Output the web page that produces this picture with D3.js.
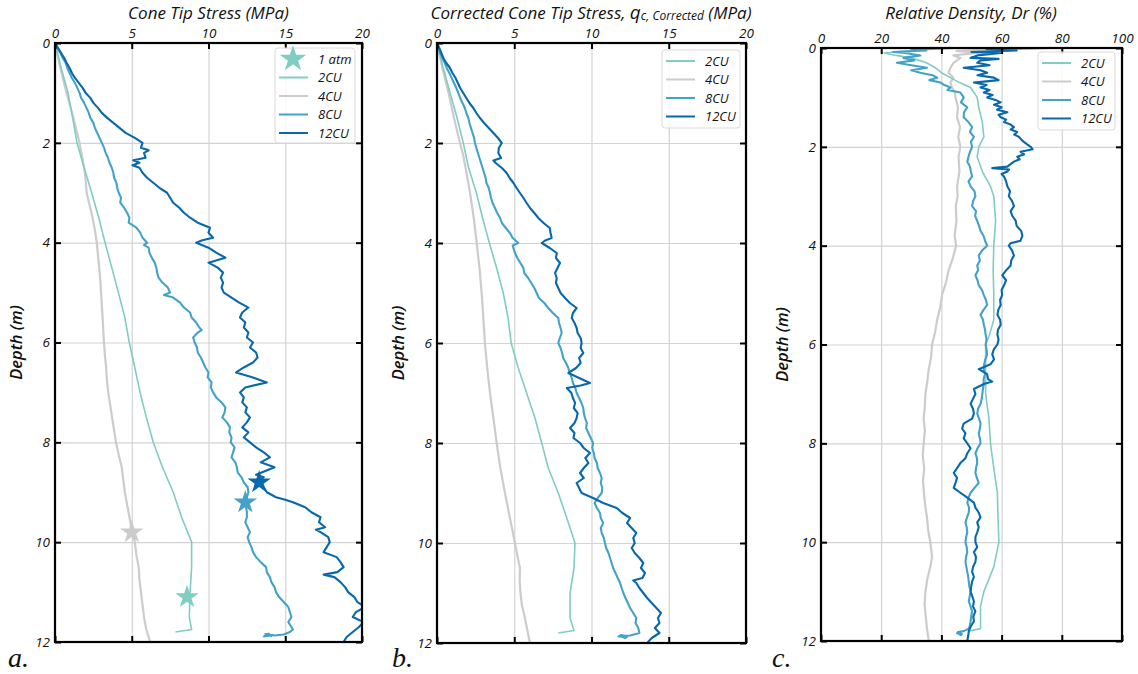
<!DOCTYPE html>
<html><head><meta charset="utf-8">
<script src="https://cdn.jsdelivr.net/npm/d3@7"></script>
<style>
body{margin:0;background:#fff;}
</style></head>
<body>
<svg id="chart" width="1138" height="674"></svg>
<script>
// ---------------- DATA ----------------
const seriesNames = ["2CU","4CU","8CU","12CU"];
const stressTicks = [0,5,10,15,20];
const drTicks = [0,20,40,60,80,100];
const depthTicks = [0,2,4,6,8,10,12];

// Panel a: cone tip stress (MPa) — [depth m, value]
const qc_2CU = [[0,0],[0.5,0.4],[1,0.85],[1.5,1.15],[2,1.43],[2.5,1.9],[3,2.39],[3.5,2.85],[4,3.26],[4.5,3.7],[5,4.13],[5.5,4.55],[6,4.84],[6.5,5.2],[7,5.54],[7.5,5.95],[8,6.4],[8.5,7.0],[9,7.7],[9.5,8.25],[10,8.9],[10.5,8.9],[11,8.8],[11.5,8.75],[11.75,8.9],[11.8,7.85]];
const qc_4CU = [[0,0],[0.5,0.35],[1,0.75],[1.5,1.2],[2,1.6],[2.25,1.75],[2.5,1.9],[2.75,2.0],[3,2.06],[3.25,2.25],[3.5,2.45],[3.75,2.6],[4,2.72],[4.25,2.8],[4.5,2.88],[4.75,2.95],[5,3.0],[5.5,3.1],[6,3.19],[6.25,3.25],[6.5,3.33],[6.75,3.38],[7,3.47],[7.5,3.72],[8,3.97],[8.25,4.15],[8.5,4.35],[8.75,4.45],[9,4.55],[9.25,4.7],[9.5,4.85],[9.75,5.0],[10,5.2],[10.25,5.3],[10.5,5.45],[10.75,5.5],[11,5.6],[11.25,5.7],[11.5,5.8],[11.75,5.95],[12,6.2]];
const qc_8CU = [[0,0],[0.1,0.15],[0.2,0.35],[0.3,0.5],[0.4,0.7],[0.5,0.8],[0.6,0.95],[0.7,1.1],[0.8,1.3],[0.9,1.45],[1,1.6],[1.1,1.7],[1.2,1.9],[1.3,2.05],[1.4,2.2],[1.5,2.3],[1.6,2.5],[1.7,2.6],[1.8,2.75],[1.9,2.9],[2,3.05],[2.1,3.2],[2.2,3.3],[2.3,3.45],[2.4,3.55],[2.5,3.7],[2.6,3.8],[2.7,3.85],[2.8,4.0],[2.9,4.05],[3,4.15],[3.1,4.3],[3.2,4.25],[3.3,4.5],[3.4,4.7],[3.5,4.85],[3.6,4.8],[3.7,5.3],[3.8,5.55],[3.9,5.7],[4,6.0],[4.05,5.8],[4.1,6.1],[4.2,6.15],[4.3,6.3],[4.4,6.5],[4.5,6.6],[4.6,6.65],[4.7,6.75],[4.8,7.0],[4.9,7.35],[5,7.5],[5.05,7.1],[5.1,7.7],[5.2,8.15],[5.3,8.4],[5.4,8.8],[5.5,8.9],[5.6,9.2],[5.7,9.4],[5.75,9.55],[5.8,9.3],[5.9,9.0],[6,9.1],[6.1,9.25],[6.2,9.3],[6.3,9.5],[6.4,9.65],[6.5,9.8],[6.6,10.0],[6.7,9.95],[6.8,10.2],[6.9,10.15],[7,10.3],[7.1,10.5],[7.2,10.85],[7.3,11.1],[7.4,11.05],[7.5,10.9],[7.6,11.2],[7.7,11.4],[7.8,11.35],[7.9,11.5],[8,11.45],[8.1,11.7],[8.2,11.6],[8.3,11.5],[8.4,11.75],[8.5,11.85],[8.6,11.9],[8.7,12.15],[8.8,12.3],[8.9,12.55],[9,12.6],[9.1,12.5],[9.2,12.4],[9.3,12.45],[9.4,12.5],[9.5,12.5],[9.6,12.4],[9.7,12.55],[9.8,12.7],[9.9,12.55],[10,12.65],[10.1,12.8],[10.2,12.9],[10.3,13.1],[10.4,13.4],[10.5,13.75],[10.6,13.8],[10.7,14.0],[10.8,14.1],[10.9,14.3],[11,14.4],[11.1,14.6],[11.2,14.9],[11.3,15.2],[11.4,15.3],[11.5,15.4],[11.6,15.2],[11.7,15.4],[11.75,15.5],[11.8,15.3],[11.85,14.9],[11.87,14.3],[11.84,13.7],[11.88,14.1],[11.83,13.9],[11.89,13.6],[11.86,14.2],[11.85,13.8]];
const qc_12CU = [[0,0],[0.1,0.2],[0.2,0.4],[0.3,0.6],[0.4,0.76],[0.5,0.95],[0.6,1.1],[0.7,1.3],[0.8,1.55],[0.9,1.8],[1,2.0],[1.1,2.3],[1.2,2.5],[1.3,2.8],[1.4,3.05],[1.5,3.4],[1.6,3.8],[1.7,4.2],[1.8,4.6],[1.9,5.2],[2,5.7],[2.1,5.6],[2.15,6.1],[2.2,5.8],[2.3,5.9],[2.35,5.1],[2.4,5.5],[2.45,5.05],[2.5,5.5],[2.6,5.7],[2.7,6.0],[2.8,6.4],[2.9,6.8],[3,7.3],[3.1,7.5],[3.2,7.7],[3.3,8.1],[3.4,8.4],[3.5,8.8],[3.6,9.3],[3.7,10.1],[3.8,10.0],[3.9,10.3],[3.95,9.6],[4,9.2],[4.1,10.0],[4.2,10.5],[4.3,11.1],[4.4,10.0],[4.5,10.6],[4.6,10.95],[4.7,10.8],[4.8,10.95],[4.9,10.85],[5,11.0],[5.1,11.5],[5.2,12.0],[5.3,12.6],[5.4,12.2],[5.5,12.05],[5.6,12.4],[5.7,12.3],[5.8,12.6],[5.9,12.5],[6,12.9],[6.1,12.7],[6.2,13.1],[6.3,13.2],[6.4,12.9],[6.5,12.3],[6.6,11.8],[6.7,12.9],[6.8,13.8],[6.9,12.4],[7,12.05],[7.1,12.3],[7.2,12.2],[7.3,12.5],[7.4,12.4],[7.5,12.7],[7.6,12.5],[7.7,12.2],[7.8,12.6],[7.9,12.3],[8,12.7],[8.1,13.1],[8.2,13.6],[8.3,14.0],[8.4,13.4],[8.5,14.3],[8.6,13.5],[8.65,13.1],[8.7,13.6],[8.8,13.2],[8.9,13.6],[9,13.8],[9.1,14.4],[9.15,15.0],[9.2,15.5],[9.3,16.3],[9.4,16.7],[9.5,17.3],[9.6,17.2],[9.7,17.6],[9.75,17.0],[9.8,17.3],[9.9,17.8],[10,17.9],[10.1,17.7],[10.2,17.5],[10.3,18.35],[10.4,18.6],[10.5,18.8],[10.6,18.4],[10.65,17.5],[10.7,18.2],[10.8,18.6],[10.9,18.9],[11,19.1],[11.1,19.5],[11.2,19.7],[11.3,20.2],[11.4,19.6],[11.5,19.4],[11.6,20.1],[11.7,19.8],[11.8,19.4],[11.9,19.0],[12,18.8]];
// 1 atm markers on panel a: [depth, value] for 2CU, 4CU, 8CU, 12CU
const atm1_points = [[11.1,8.6],[9.8,5.0],[9.2,12.4],[8.8,13.3]];

// Panel b: corrected cone tip stress (MPa)
const qcc_2CU = [[0,0],[0.5,0.4],[1,0.85],[1.5,1.3],[2,1.7],[2.5,2.05],[3,2.55],[3.5,2.95],[4,3.39],[4.5,3.86],[5,4.29],[5.5,4.6],[6,4.8],[6.5,5.26],[7,5.8],[7.5,6.34],[8,6.78],[8.5,7.2],[9,7.85],[9.5,8.4],[10,8.93],[10.5,8.87],[11,8.61],[11.5,8.61],[11.75,8.87],[11.8,7.85]];
const qcc_4CU = [[0,0],[0.5,0.35],[1,0.75],[1.5,1.1],[2,1.49],[2.25,1.7],[2.5,1.85],[2.75,2.0],[3,2.14],[3.5,2.38],[4,2.57],[4.5,2.75],[5,2.89],[5.5,3.0],[6,3.1],[6.5,3.25],[7,3.43],[7.5,3.65],[8,3.86],[8.5,4.1],[9,4.4],[9.5,4.72],[10,5.05],[10.25,5.2],[10.5,5.37],[10.75,5.35],[11,5.4],[11.25,5.5],[11.5,5.69],[11.75,5.85],[12,6.02]];
const qcc_8CU = [[0,0],[0.1,0.1],[0.2,0.2],[0.3,0.35],[0.4,0.5],[0.5,0.63],[0.6,0.8],[0.7,0.95],[0.8,1.1],[0.9,1.25],[1,1.38],[1.1,1.5],[1.2,1.65],[1.3,1.8],[1.4,1.9],[1.5,2.03],[1.6,2.1],[1.7,2.2],[1.8,2.3],[1.9,2.4],[2,2.46],[2.1,2.55],[2.2,2.65],[2.3,2.75],[2.4,2.85],[2.5,2.95],[2.6,3.05],[2.7,3.15],[2.8,3.2],[2.9,3.35],[3,3.43],[3.1,3.5],[3.2,3.6],[3.3,3.75],[3.4,3.9],[3.5,4.08],[3.6,4.2],[3.7,4.45],[3.8,4.72],[3.9,4.9],[4,5.26],[4.05,4.9],[4.1,4.94],[4.2,5.05],[4.3,5.2],[4.4,5.4],[4.5,5.59],[4.6,5.65],[4.7,5.9],[4.8,6.1],[4.9,6.3],[5,6.45],[5.1,6.6],[5.2,6.95],[5.3,7.2],[5.4,7.5],[5.5,7.85],[5.6,7.9],[5.7,8.0],[5.8,8.07],[5.9,7.95],[6,7.85],[6.1,8.0],[6.2,8.1],[6.3,8.17],[6.4,8.35],[6.5,8.5],[6.6,8.6],[6.7,8.72],[6.8,8.8],[6.9,8.95],[7,9.04],[7.1,9.2],[7.2,9.35],[7.3,9.47],[7.4,9.5],[7.5,9.58],[7.6,9.7],[7.7,9.65],[7.8,9.8],[7.9,9.95],[8,10.1],[8.1,10.05],[8.2,10.15],[8.3,10.2],[8.4,10.35],[8.5,10.4],[8.6,10.55],[8.7,10.66],[8.8,10.6],[8.9,10.7],[9,10.66],[9.1,10.4],[9.2,10.2],[9.3,10.35],[9.4,10.55],[9.5,10.6],[9.6,10.76],[9.7,10.6],[9.8,10.66],[9.9,10.8],[10,10.87],[10.1,10.95],[10.2,11.1],[10.3,11.2],[10.4,11.3],[10.5,11.4],[10.6,11.55],[10.7,11.7],[10.8,11.85],[10.9,11.95],[11,12.06],[11.1,12.2],[11.2,12.35],[11.3,12.5],[11.4,12.7],[11.5,12.9],[11.6,12.85],[11.7,13.03],[11.8,13.1],[11.85,12.5],[11.86,11.8],[11.9,12.2],[11.84,11.9],[11.88,12.3],[11.87,11.75],[11.85,12.0]];
const qcc_12CU = [[0,0],[0.1,0.15],[0.2,0.28],[0.3,0.41],[0.4,0.6],[0.5,0.84],[0.6,1.0],[0.7,1.2],[0.8,1.35],[0.9,1.5],[1,1.7],[1.1,1.9],[1.2,2.1],[1.3,2.35],[1.4,2.55],[1.5,2.78],[1.6,3.05],[1.7,3.35],[1.8,3.65],[1.9,3.95],[2,4.19],[2.1,4.0],[2.2,3.97],[2.3,4.15],[2.35,3.65],[2.4,3.8],[2.5,4.2],[2.6,4.51],[2.7,4.7],[2.8,4.95],[2.9,5.15],[3,5.37],[3.1,5.6],[3.2,5.8],[3.3,6.02],[3.4,6.3],[3.5,6.56],[3.6,6.9],[3.7,7.3],[3.8,7.35],[3.9,7.42],[3.95,7.0],[4,6.78],[4.1,7.3],[4.2,7.75],[4.3,7.7],[4.4,7.96],[4.5,7.8],[4.6,7.64],[4.7,7.75],[4.8,7.7],[4.9,7.85],[5,8.0],[5.1,8.29],[5.2,8.6],[5.3,9.04],[5.4,8.8],[5.5,8.72],[5.6,8.9],[5.7,9.04],[5.8,9.1],[5.9,9.3],[6,9.36],[6.1,9.3],[6.2,9.47],[6.3,9.2],[6.4,9.3],[6.5,9.0],[6.6,8.5],[6.7,9.2],[6.8,9.9],[6.85,9.3],[6.9,8.4],[7,8.7],[7.1,8.8],[7.2,8.94],[7.3,8.85],[7.4,9.1],[7.5,9.04],[7.6,8.9],[7.7,8.61],[7.8,8.9],[7.9,8.83],[8,9.26],[8.1,9.5],[8.2,9.9],[8.3,9.6],[8.4,9.8],[8.5,9.5],[8.6,9.26],[8.7,9.5],[8.8,9.04],[8.9,9.2],[9,9.36],[9.1,10.1],[9.2,10.76],[9.3,11.63],[9.4,12.0],[9.5,12.5],[9.6,12.3],[9.7,12.6],[9.8,12.9],[9.9,12.7],[10,12.8],[10.1,12.6],[10.2,12.8],[10.3,13.1],[10.4,13.35],[10.5,13.2],[10.6,13.46],[10.7,13.3],[10.75,12.7],[10.8,12.9],[10.9,13.1],[11,13.35],[11.1,13.6],[11.2,13.9],[11.3,14.2],[11.4,14.5],[11.5,14.3],[11.6,14.4],[11.7,14.1],[11.8,14.4],[11.9,13.9],[12,13.6]];

// Panel c: relative density Dr (%)
const dr_2CU = [[0,44],[0.05,30],[0.1,21],[0.15,25],[0.2,30],[0.3,35],[0.4,38],[0.5,40],[0.6,43],[0.7,46],[0.8,49.7],[1,51.9],[1.2,52.4],[1.5,53.6],[1.8,54.1],[2,52.4],[2.2,51.9],[2.5,53.6],[2.8,56.3],[3,57.4],[3.5,58],[4,57.4],[4.5,57.2],[5,57.4],[5.5,57.4],[5.8,56],[6,54.7],[6.5,54.7],[7,54.7],[7.5,55.8],[8,56.3],[8.5,57.4],[9,58.6],[9.5,58.8],[10,59.1],[10.5,57.4],[11,54.1],[11.3,53],[11.5,53],[11.75,53],[11.8,49.1]];
const dr_4CU = [[0,47],[0.03,61],[0.06,45],[0.1,52],[0.15,44],[0.2,46.3],[0.3,44],[0.4,43],[0.5,42.4],[0.6,44],[0.7,43],[0.8,43.5],[0.9,44.5],[1,44.7],[1.2,45.5],[1.4,45.2],[1.6,46.2],[1.8,45.6],[2,46.3],[2.2,45.7],[2.5,46],[2.8,45.2],[3,45.4],[3.2,44.8],[3.5,45],[3.8,44.4],[4,44.9],[4.25,43.8],[4.5,42.4],[4.75,41.5],[5,40.2],[5.25,39.6],[5.5,38.6],[5.75,37.9],[6,36.9],[6.25,36.6],[6.5,35.8],[6.75,35.3],[7,34.7],[7.25,34.5],[7.5,34.1],[7.75,34.5],[8,34.1],[8.25,33.8],[8.5,34.3],[8.75,33.9],[9,34.2],[9.25,34.6],[9.5,35.2],[9.75,35.6],[10,36.3],[10.3,36.9],[10.5,36.3],[10.75,35.3],[11,34.7],[11.25,34.4],[11.5,34.8],[11.75,35.2],[12,35.8]];
const dr_8CU = [[0,45],[0.02,30],[0.05,35],[0.08,24],[0.1,28],[0.15,33],[0.2,27.4],[0.25,31],[0.3,25.2],[0.35,30],[0.4,35.2],[0.45,30],[0.5,33],[0.55,37],[0.6,38.6],[0.65,36],[0.7,39.7],[0.75,41],[0.8,43],[0.85,42],[0.9,46.3],[1,47.4],[1.1,46.5],[1.2,48.6],[1.3,47.5],[1.4,47.4],[1.5,49],[1.6,50.2],[1.7,49.5],[1.8,50.8],[1.9,49.8],[2,50.2],[2.1,49.5],[2.2,49],[2.3,48.6],[2.4,49.5],[2.5,49.8],[2.6,50.2],[2.7,49],[2.8,49.7],[2.9,51],[3,51.3],[3.1,50.5],[3.2,50.2],[3.3,51.5],[3.4,51.2],[3.5,51.9],[3.6,52.5],[3.7,53],[3.8,54],[3.9,54.5],[4,55.2],[4.1,53.5],[4.2,52.4],[4.3,52.8],[4.4,51.9],[4.5,52.2],[4.6,51.3],[4.7,52],[4.8,52.4],[4.9,53.5],[5,54.1],[5.1,54.8],[5.2,55.2],[5.3,54],[5.4,53],[5.5,53.8],[5.6,54.1],[5.7,54.5],[5.8,54.7],[5.9,55],[6,54.7],[6.1,55],[6.2,55.2],[6.3,54.6],[6.4,54.2],[6.5,54.1],[6.6,54.5],[6.7,54],[6.8,54.1],[6.9,53.8],[7,53.6],[7.1,53.4],[7.2,53],[7.3,52.2],[7.4,51.9],[7.5,52.5],[7.6,53],[7.7,52.8],[7.8,52.4],[7.9,52.8],[8,53],[8.1,52],[8.2,51.3],[8.3,51.8],[8.4,51.9],[8.5,51.5],[8.6,51.3],[8.7,51.8],[8.8,52.4],[8.9,51],[9,49.7],[9.1,49],[9.2,48.6],[9.3,49.2],[9.4,49.1],[9.5,48.5],[9.6,48],[9.7,48.4],[9.8,48.6],[9.9,48.2],[10,48],[10.1,48.4],[10.2,48.6],[10.3,48.2],[10.4,48],[10.5,48.3],[10.6,48.6],[10.7,48.9],[10.8,49.1],[10.9,49.3],[11,49.7],[11.1,49.4],[11.2,49.1],[11.3,49.7],[11.4,50.2],[11.5,49.9],[11.6,49.7],[11.7,49.4],[11.75,49.1],[11.8,47.4],[11.82,45.5],[11.86,46.8],[11.84,45.2],[11.88,46.5],[11.85,45.8]];
const dr_12CU = [[0,76.3],[0.02,55],[0.05,65],[0.08,50],[0.1,59.7],[0.15,52],[0.2,49.7],[0.22,59],[0.25,53],[0.3,51.9],[0.35,56],[0.4,47.4],[0.45,53],[0.5,55.2],[0.55,52],[0.6,57.4],[0.65,59],[0.7,50.8],[0.75,55],[0.8,53],[0.85,56],[0.9,54.1],[0.95,57],[1,55.2],[1.05,58],[1.1,59.7],[1.15,57.5],[1.2,60],[1.25,58.5],[1.3,61.9],[1.35,59],[1.4,59.7],[1.45,61.5],[1.5,60.8],[1.55,63],[1.6,64.1],[1.65,63],[1.7,65.2],[1.75,64.2],[1.8,65.8],[1.85,66.5],[1.9,67.4],[1.95,68.5],[2,69.7],[2.05,70.3],[2.1,66.3],[2.15,67.5],[2.2,65.2],[2.25,66],[2.3,64.1],[2.35,63],[2.4,61.9],[2.43,56.9],[2.46,62.5],[2.5,61.9],[2.55,60],[2.6,60.8],[2.7,61.5],[2.8,61.9],[2.9,62.8],[3,62.4],[3.1,63.5],[3.2,64.1],[3.3,63],[3.4,63.6],[3.5,64.7],[3.6,65],[3.7,66.5],[3.8,66.9],[3.9,66.3],[3.95,63],[4,62.4],[4.1,63.5],[4.2,64.1],[4.3,63.2],[4.4,63],[4.5,61.5],[4.6,60.2],[4.7,61.5],[4.8,60.8],[4.9,60],[5,60.2],[5.1,59.5],[5.2,59.7],[5.3,58.9],[5.4,58.6],[5.5,59.5],[5.6,59.7],[5.7,58.8],[5.8,58.6],[5.9,59],[6,58.6],[6.1,57.4],[6.2,56.9],[6.3,57.5],[6.4,56.3],[6.5,52.4],[6.6,55.2],[6.7,55.5],[6.75,56.9],[6.8,54.1],[6.9,50.8],[7,51.3],[7.1,50.5],[7.2,49.7],[7.3,50.5],[7.4,50.8],[7.5,50.2],[7.6,47.4],[7.7,46.9],[7.8,48],[7.9,47.4],[8,48.6],[8.1,49.7],[8.2,48.6],[8.3,48],[8.4,46.3],[8.5,45.2],[8.6,44.1],[8.7,45.2],[8.8,44.7],[8.9,44.1],[9,46.3],[9.1,48.6],[9.2,50.8],[9.3,51.3],[9.4,52.4],[9.5,53],[9.6,51.9],[9.7,52.4],[9.8,51.9],[9.9,51.3],[10,51.3],[10.1,51.9],[10.2,50.8],[10.3,51.5],[10.4,51.3],[10.5,50.5],[10.6,50.2],[10.7,50.8],[10.8,50.2],[10.9,49.9],[11,49.7],[11.1,50.3],[11.2,50.8],[11.3,50.5],[11.4,51.3],[11.5,50.6],[11.6,50.8],[11.7,49.8],[11.8,49.1],[11.9,48.9],[12,48.6]];

// ---------------- STYLE ----------------
const colors = {"2CU":"#80cdc1","4CU":"#cccccc","8CU":"#43a2ca","12CU":"#0868ac"};
const widths = {"2CU":1.6,"4CU":2.2,"8CU":2.1,"12CU":2.1};
const FONT = "'Open Sans', sans-serif";

const svg = d3.select("#chart");

const panels = [
  {key:"a", box:{l:55,r:362,t:43,b:642}, domain:[0,20], ticks:stressTicks,
   data:{"2CU":qc_2CU,"4CU":qc_4CU,"8CU":qc_8CU,"12CU":qc_12CU},
   legend:{x:275,y:48,w:80,h:95,star:true}, labelX:8},
  {key:"b", box:{l:437,r:746,t:43,b:643}, domain:[0,20], ticks:stressTicks,
   data:{"2CU":qcc_2CU,"4CU":qcc_4CU,"8CU":qcc_8CU,"12CU":qcc_12CU},
   legend:{x:662,y:50,w:78,h:78,star:false}, labelX:392},
  {key:"c", box:{l:821,r:1122,t:48,b:641}, domain:[0,100], ticks:drTicks,
   data:{"2CU":dr_2CU,"4CU":dr_4CU,"8CU":dr_8CU,"12CU":dr_12CU},
   legend:{x:1038,y:52,w:77,h:78,star:false}, labelX:772}
];

panels.forEach((p,i)=>{
  const B = p.box, W = B.r-B.l, H = B.b-B.t;
  const x = d3.scaleLinear().domain(p.domain).range([0,W]);
  const y = d3.scaleLinear().domain([0,12]).range([0,H]);
  const g = svg.append("g").attr("transform",`translate(${B.l},${B.t})`);

  // grid
  g.append("g").attr("transform",`translate(0,${H})`)
    .call(d3.axisBottom(x).tickValues(p.ticks).tickSize(-H).tickFormat(""))
    .call(s=>{s.select(".domain").remove(); s.selectAll("line").attr("stroke","#d3d3d3").attr("stroke-width",1.2);});
  g.append("g")
    .call(d3.axisLeft(y).tickValues(depthTicks).tickSize(-W).tickFormat(""))
    .call(s=>{s.select(".domain").remove(); s.selectAll("line").attr("stroke","#d3d3d3").attr("stroke-width",1.2);});

  // clip
  const cid = "clip"+p.key;
  svg.append("defs").append("clipPath").attr("id",cid).append("rect").attr("width",W).attr("height",H);
  const plot = g.append("g").attr("clip-path",`url(#${cid})`);
  const line = d3.line().x(d=>x(d[1])).y(d=>y(d[0]));
  ["4CU","2CU","8CU","12CU"].forEach(s=>{
    plot.append("path").datum(p.data[s]).attr("d",line)
      .attr("fill","none").attr("stroke",colors[s]).attr("stroke-width",widths[s])
      .attr("stroke-linejoin","round");
  });

  if(p.key==="a"){
    const star = d3.symbol(d3.symbolStar).size(170);
    g.selectAll(".star").data(atm1_points).join("path")
      .attr("d",star).attr("transform",d=>`translate(${x(d[1])},${y(d[0])})`)
      .attr("fill",(d,k)=>colors[seriesNames[k]]);
  }

  // axes with inward ticks
  const styleAx = s=>{
    s.select(".domain").remove();
    s.selectAll("line").attr("stroke","#000").attr("stroke-width",2);
    s.selectAll("text").style("font-family",FONT).style("font-style","italic")
      .style("font-size","13.5px").attr("fill","#111");
  };
  g.append("g").call(d3.axisTop(x).tickValues(p.ticks).tickSizeInner(-6).tickSizeOuter(0).tickPadding(5)).call(styleAx);
  g.append("g").attr("transform",`translate(0,${H})`).call(d3.axisBottom(x).tickValues(p.ticks).tickSizeInner(-6).tickSizeOuter(0).tickFormat("")).call(styleAx);
  g.append("g").call(d3.axisLeft(y).tickValues(depthTicks).tickSizeInner(-6).tickSizeOuter(0).tickPadding(5)).call(styleAx);
  g.append("g").attr("transform",`translate(${W},0)`).call(d3.axisRight(y).tickValues(depthTicks).tickSizeInner(-6).tickSizeOuter(0).tickFormat("")).call(styleAx);
  g.append("rect").attr("width",W).attr("height",H).attr("fill","none").attr("stroke","#000").attr("stroke-width",2.2);

  // legend
  const L = p.legend;
  const lg = svg.append("g").attr("transform",`translate(${L.x},${L.y})`);
  lg.append("rect").attr("width",L.w).attr("height",L.h).attr("rx",3)
    .attr("fill","rgba(255,255,255,0.85)").attr("stroke","#d9d9d9").attr("stroke-width",1);
  let items = seriesNames.slice();
  if(L.star) items = ["1 atm"].concat(items);
  items.forEach((name,k)=>{
    const cy = 11 + k*18.5;
    if(name==="1 atm"){
      lg.append("path").attr("d",d3.symbol(d3.symbolStar).size(220)())
        .attr("transform",`translate(18,${cy})`).attr("fill",colors["2CU"]);
    } else {
      lg.append("line").attr("x1",4).attr("x2",33).attr("y1",cy).attr("y2",cy)
        .attr("stroke",colors[name]).attr("stroke-width",2);
    }
    lg.append("text").attr("x",43).attr("y",cy+4.5).text(name)
      .style("font-family",FONT).style("font-style","italic").style("font-size","13px").attr("fill","#111");
  });

  // depth label
  svg.append("text").attr("transform",`translate(${B.l-33},${(B.t+B.b)/2}) rotate(-90)`)
    .attr("text-anchor","middle").style("font-family",FONT).style("font-style","italic").style("font-size","16.5px")
    .style("font-weight","600").attr("fill","#111").text("Depth (m)");

  // panel label
  svg.append("text").attr("x",p.labelX).attr("y",667).style("font-family","'Liberation Serif', 'DejaVu Serif', serif")
    .style("font-style","italic").style("font-size","28px").attr("fill","#111").text(p.key+".");
});

// titles
const titleStyle = s=>s.style("font-family",FONT).style("font-style","italic").style("font-size","17px").attr("fill","#111").attr("text-anchor","middle");
svg.append("text").attr("x",(55+362)/2).attr("y",18.5).call(titleStyle).text("Cone Tip Stress (MPa)");
const tB = svg.append("text").attr("x",591).attr("y",18.5).call(titleStyle);
tB.append("tspan").text("Corrected Cone Tip Stress, ");
tB.append("tspan").style("font-size","19px").text("q");
tB.append("tspan").style("font-size","12px").attr("dy",1.5).text("c, Corrected");
tB.append("tspan").attr("dy",-1.5).text(" (MPa)");
svg.append("text").attr("x",971).attr("y",18.5).call(titleStyle).text("Relative Density, Dr (%)");
</script>
</body></html>
